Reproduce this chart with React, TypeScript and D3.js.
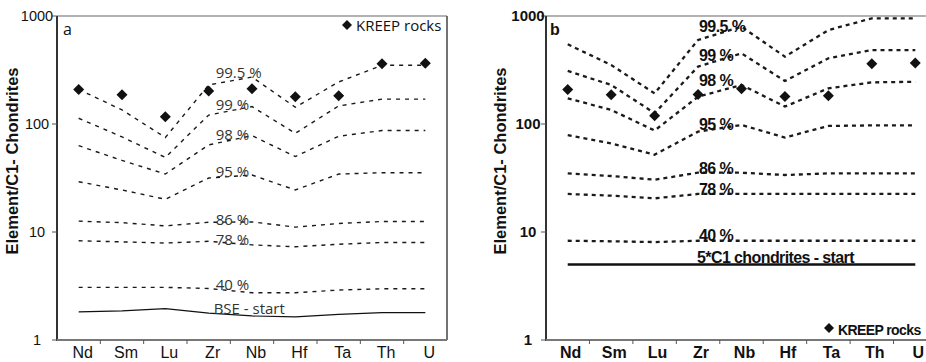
import React from 'react';
import * as d3 from 'd3';

// element order on the x axis
const elements = ['Nd', 'Sm', 'Lu', 'Zr', 'Nb', 'Hf', 'Ta', 'Th', 'U'];

// KREEP rocks (normalised to C1 chondrites)
const kreepA = [209, 187, 117, 202, 212, 179, 183, 362, 365];
const kreepB = [209, 187, 119, 188, 212, 180, 183, 362, 367];

// panel a: BSE start composition, melt fraction curves
const a995 = [209, 135, 75, 230, 272, 143, 245, 350, 350];
const a99 = [113, 76, 49, 121, 145, 82, 147, 170, 170];
const a98 = [63, 46, 34.4, 64, 78, 50, 77, 87, 87];
const a95 = [29.2, 24.5, 20.1, 31.6, 33.7, 24.5, 34.4, 35.4, 35.4];
const a86 = [12.6, 12.2, 11.4, 12.3, 12.4, 11.1, 12.0, 12.5, 12.5];
const a78 = [8.3, 8.1, 7.9, 8.2, 7.6, 7.3, 7.7, 8.0, 8.0];
const a40 = [3.07, 3.07, 3.07, 3.0, 2.74, 2.74, 2.9, 2.98, 2.98];
const aStart = [1.82, 1.86, 1.95, 1.77, 1.67, 1.64, 1.73, 1.79, 1.79];

// panel b: 5*C1 chondrites start composition
const b995 = [547, 352, 192, 600, 796, 420, 741, 951, 951];
const b99 = [310, 230, 126, 340, 451, 250, 406, 484, 484];
const b98 = [173, 135, 87, 179, 230, 145, 214, 243, 246];
const b95 = [79, 66, 52, 85, 98, 75, 96, 97, 97];
const b86 = [34.9, 33, 30.5, 35.4, 35.4, 33.7, 34.9, 34.9, 34.9];
const b78 = [22.5, 21.7, 20.5, 22.5, 22.5, 22.5, 22.5, 22.5, 22.5];
const b40 = [8.3, 8.2, 8.07, 8.3, 8.3, 8.3, 8.3, 8.3, 8.3];
const bStart = [5, 5, 5, 5, 5, 5, 5, 5, 5];

const curveLabels = ['99.5 %', '99 %', '98 %', '95 %', '86 %', '78 %', '40 %'];
// label baselines, in data units
const labelAtA = [267, 135, 71, 32.3, 11.6, 7.6, 2.9, 1.74];
const labelAtB = [711, 383, 225, 88, 34.4, 22, 8.26, 5.16];

const yTicks = [1, 10, 100, 1000];

const W = 926;
const H = 362;
const top = 16;
const bottom = 340;

interface PanelProps {
  x0: number;
  x1: number;
  curves: number[][];
  start: number[];
  startLabel: string;
  kreep: number[];
  labelAt: number[];
  bold: boolean;
  letter: string;
  legendAtTop: boolean;
  showRight: boolean;
}

const Panel: React.FC<PanelProps> = (p) => {
  const x = d3.scaleBand<string>().domain(elements).range([p.x0, p.x1]);
  const cx = (i: number) => (x(elements[i]) as number) + x.bandwidth() / 2;
  const y = d3.scaleLog().domain([1, 1000]).range([bottom, top]);
  const line = d3.line<number>().x((_, i) => cx(i)).y((d) => y(d));

  const weight = p.bold ? 'bold' : 'normal';
  const annFont = p.bold ? "'Liberation Sans', Arial, sans-serif" : "'Open Sans', sans-serif";
  const annSize = p.bold ? 16 : 15;
  const dash = p.bold ? '4,4' : '4,5';
  const dashW = p.bold ? 2.3 : 1.4;
  const labelX = cx(3) + (p.bold ? 1 : 7);
  const tickLabelX = p.x0 - (p.bold ? 18 : 20);
  const titleX = p.x0 - (p.bold ? 40 : 39);

  const diamond = (px: number, py: number, r: number) =>
    `M${px},${py - r}L${px + r},${py}L${px},${py + r}L${px - r},${py}Z`;

  return (
    <g>
      {/* frame */}
      <line x1={p.x0} x2={p.showRight ? p.x1 : W} y1={top} y2={top} stroke="#666" strokeWidth={1.2} />
      {p.showRight && <line x1={p.x1} x2={p.x1} y1={top} y2={bottom} stroke="#444" strokeWidth={1.5} />}
      <line x1={p.x0} x2={p.x0} y1={top} y2={bottom + 1} stroke="#333" strokeWidth={2} />
      <line x1={p.x0} x2={p.showRight ? p.x1 : W} y1={bottom} y2={bottom} stroke="#777" strokeWidth={2} />

      {/* x ticks at band edges */}
      {elements.map((e, i) => (
        <line key={'xt' + e} x1={(x(e) as number)} x2={(x(e) as number)} y1={bottom} y2={bottom + 4}
          stroke="#555" strokeWidth={1} opacity={i === 0 ? 0 : 1} />
      ))}
      {elements.map((e, i) => (
        <text key={'xl' + e} x={cx(i) + (p.bold ? 3 : 4)} y={358} textAnchor="middle"
          fontFamily="'Liberation Sans', Arial, sans-serif" fontSize={16} fontWeight={weight} fill="#111">
          {e}
        </text>
      ))}

      {/* y ticks */}
      {yTicks.map((t) => (
        <g key={'yt' + t}>
          <line x1={p.x0 - 5} x2={p.x0} y1={y(t)} y2={y(t)} stroke="#555" strokeWidth={1} />
          <text x={tickLabelX} y={y(t) + 5} textAnchor="middle"
            fontFamily="'Liberation Sans', Arial, sans-serif" fontSize={p.bold ? 15 : 14.5} fontWeight={weight} fill="#111">
            {t}
          </text>
        </g>
      ))}
      <text transform={`translate(${titleX},161) rotate(-90)`} textAnchor="middle"
        fontFamily="'Liberation Sans', Arial, sans-serif" fontSize={16.5} fontWeight="bold" fill="#111">
        Element/C1- Chondrites
      </text>

      {/* melt curves */}
      {p.curves.map((c, k) => (
        <path key={'c' + k} d={line(c) as string} fill="none" stroke="#1a1a1a"
          strokeWidth={dashW} strokeDasharray={dash} />
      ))}
      <path d={line(p.start) as string} fill="none" stroke="#111" strokeWidth={p.bold ? 2.6 : 1.2} />

      {curveLabels.map((l, k) => (
        <text key={'cl' + k} x={labelX} y={y(p.labelAt[k])} fontFamily={annFont}
          fontSize={annSize} fontWeight={weight} letterSpacing={p.bold ? -0.6 : 0} fill={p.bold ? '#111' : '#333'}>
          {l}
        </text>
      ))}
      <text x={labelX - 2} y={y(p.labelAt[7])} fontFamily={annFont} fontSize={annSize}
        fontWeight={weight} letterSpacing={p.bold ? -0.6 : 0} fill={p.bold ? '#111' : '#333'}>
        {p.startLabel}
      </text>

      {/* KREEP rocks */}
      {p.kreep.map((v, i) => (
        <path key={'k' + i} d={diamond(cx(i), y(v), 5.5)} fill="#111" />
      ))}

      {/* panel letter */}
      <text x={p.x0 + (p.bold ? 4 : 6)} y={35} fontFamily={p.bold ? "'Liberation Sans', Arial, sans-serif" : "'Open Sans', sans-serif"}
        fontSize={16} fontWeight={weight} fill="#111">
        {p.letter}
      </text>

      {/* legend */}
      {p.legendAtTop ? (
        <g>
          <path d={diamond(347, 25, 5)} fill="#111" />
          <text x={356} y={31} fontFamily="'Open Sans', sans-serif" fontSize={15} fill="#111">KREEP rocks</text>
        </g>
      ) : (
        <g>
          <path d={diamond(829, 328, 5)} fill="#111" />
          <text x={838} y={335} fontFamily="'Liberation Sans', Arial, sans-serif" fontSize={14}
            fontWeight="bold" letterSpacing={-0.6} fill="#111">KREEP rocks</text>
        </g>
      )}
    </g>
  );
};

export default function App() {
  return (
    <svg width={W} height={H} style={{ position: 'absolute', left: 0, top: 0, background: '#fff' }}>
      <Panel x0={57} x1={447} curves={[a995, a99, a98, a95, a86, a78, a40]} start={aStart}
        startLabel="BSE - start" kreep={kreepA} labelAt={labelAtA} bold={false} letter="a"
        legendAtTop={true} showRight={true} />
      <Panel x0={546} x1={937} curves={[b995, b99, b98, b95, b86, b78, b40]} start={bStart}
        startLabel="5*C1 chondrites - start" kreep={kreepB} labelAt={labelAtB} bold={true} letter="b"
        legendAtTop={false} showRight={false} />
    </svg>
  );
}
